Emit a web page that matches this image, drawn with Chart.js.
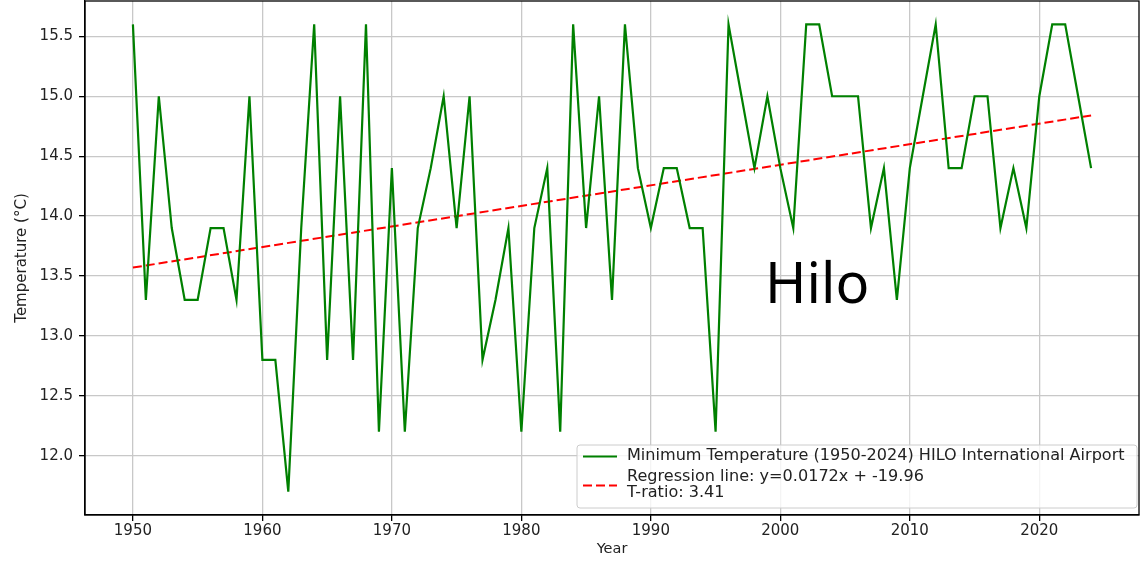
<!DOCTYPE html>
<html>
<head>
<meta charset="utf-8">
<title>Hilo minimum temperature</title>
<script src="https://cdn.jsdelivr.net/npm/chart.js@4.4.0/dist/chart.umd.min.js"></script>
<style>
  html, body { margin: 0; padding: 0; background: #fff; }
  #wrap { width: 1140px; height: 568px; }
</style>
</head>
<body>
<div id="wrap"><canvas id="chart" width="1140" height="568"></canvas></div>
<script>
// Years and yearly minimum temperature (°C)
const years = [
  1950, 1951, 1952, 1953, 1954, 1955, 1956, 1957, 1958, 1959,
  1960, 1961, 1962, 1963, 1964, 1965, 1966, 1967, 1968, 1969,
  1970, 1971, 1972, 1973, 1974, 1975, 1976, 1977, 1978, 1979,
  1980, 1981, 1982, 1983, 1984, 1985, 1986, 1987, 1988, 1989,
  1990, 1991, 1992, 1993, 1994, 1995, 1996, 1997, 1998, 1999,
  2000, 2001, 2002, 2003, 2004, 2005, 2006, 2007, 2008, 2009,
  2010, 2011, 2012, 2013, 2014, 2015, 2016, 2017, 2018, 2019,
  2020, 2021, 2022, 2023, 2024
];
const minTemps = [
  15.6, 13.3, 15.0, 13.9, 13.3, 13.3, 13.9, 13.9, 13.3, 15.0,
  12.8, 12.8, 11.7, 13.9, 15.6, 12.8, 15.0, 12.8, 15.6, 12.2,
  14.4, 12.2, 13.9, 14.4, 15.0, 13.9, 15.0, 12.8, 13.3, 13.9,
  12.2, 13.9, 14.4, 12.2, 15.6, 13.9, 15.0, 13.3, 15.6, 14.4,
  13.9, 14.4, 14.4, 13.9, 13.9, 12.2, 15.6, 15.0, 14.4, 15.0,
  14.4, 13.9, 15.6, 15.6, 15.0, 15.0, 15.0, 13.9, 14.4, 13.3,
  14.4, 15.0, 15.6, 14.4, 14.4, 15.0, 15.0, 13.9, 14.4, 13.9,
  15.0, 15.6, 15.6, 15.0, 14.4
];

// Regression line end points
const trendYears = [1950, 2024];
const trendTemps = [13.57, 14.84];

// Axis ticks
const xTicks = [1950, 1960, 1970, 1980, 1990, 2000, 2010, 2020];
const yTicks = [12.0, 12.5, 13.0, 13.5, 14.0, 14.5, 15.0, 15.5];

const seriesLabel = 'Minimum Temperature (1950-2024) HILO International Airport';
const trendLabel = ['Regression line: y=0.0172x + -19.96', 'T-ratio: 3.41'];
const stationName = 'Hilo';

const tickFont = { family: 'DejaVu Sans', size: 15 };
const textColor = '#222';

// top/right spines, legend box and station label
const decorations = {
  id: 'decorations',
  afterDraw(chart) {
    const { ctx, chartArea: a } = chart;
    ctx.save();

    // frame
    ctx.strokeStyle = '#000';
    ctx.lineWidth = 1.3;
    ctx.strokeRect(a.left, a.top, a.right - a.left, a.bottom - a.top);

    // station name
    ctx.fillStyle = '#000';
    ctx.font = '56px "Noto Sans"';
    ctx.textBaseline = 'alphabetic';
    ctx.fillText(stationName, 765, 303);

    // legend
    const bx = 577, by = 445, bw = 560, bh = 63;
    ctx.beginPath();
    ctx.roundRect(bx, by, bw, bh, 3);
    ctx.fillStyle = 'rgba(255,255,255,0.8)';
    ctx.fill();
    ctx.strokeStyle = '#cccccc';
    ctx.lineWidth = 1;
    ctx.stroke();

    // fit the font to the width seen in the picture
    let size = 14;
    ctx.font = size + 'px "DejaVu Sans"';
    size = size * 498 / ctx.measureText(seriesLabel).width;
    ctx.font = size.toFixed(2) + 'px "DejaVu Sans"';

    const ds = chart.data.datasets;
    ctx.lineWidth = 2;
    ctx.strokeStyle = ds[0].borderColor;
    ctx.setLineDash([]);
    ctx.beginPath();
    ctx.moveTo(583, 456.5);
    ctx.lineTo(617, 456.5);
    ctx.stroke();

    ctx.strokeStyle = ds[1].borderColor;
    ctx.setLineDash(ds[1].borderDash);
    ctx.beginPath();
    ctx.moveTo(583, 485.5);
    ctx.lineTo(617, 485.5);
    ctx.stroke();
    ctx.setLineDash([]);

    ctx.fillStyle = textColor;
    ctx.textBaseline = 'middle';
    ctx.fillText(seriesLabel, 627, 456);
    ctx.fillText(trendLabel[0], 627, 477);
    ctx.fillText(trendLabel[1], 627, 493);

    ctx.restore();
  }
};

new Chart(document.getElementById('chart'), {
  type: 'line',
  data: {
    datasets: [
      {
        label: seriesLabel,
        data: years.map((y, i) => ({ x: y, y: minTemps[i] })),
        borderColor: '#008000',
        borderWidth: 2.2,
        pointRadius: 0,
        tension: 0
      },
      {
        label: trendLabel.join(' '),
        data: trendYears.map((y, i) => ({ x: y, y: trendTemps[i] })),
        borderColor: '#ff0000',
        borderWidth: 2,
        borderDash: [9, 4],
        pointRadius: 0,
        tension: 0
      }
    ]
  },
  options: {
    responsive: false,
    animation: false,
    layout: { padding: { top: 1, right: 1, left: 0, bottom: 0 } },
    plugins: {
      legend: { display: false },
      tooltip: { enabled: false }
    },
    scales: {
      x: {
        type: 'linear',
        min: 1946.3,
        max: 2027.7,
        afterBuildTicks: s => { s.ticks = xTicks.map(v => ({ value: v })); },
        afterFit: s => { s.height = 53; s.paddingLeft = 0; s.paddingRight = 0; },
        ticks: { font: tickFont, color: textColor, padding: 1, maxRotation: 0, callback: v => String(v) },
        grid: { color: '#c8c8c8', lineWidth: 1.3, tickColor: '#000', tickLength: 6 },
        border: { color: '#000', width: 1.3 },
        title: { display: true, text: 'Year', font: { family: 'DejaVu Sans', size: 14.5 }, color: textColor, padding: { top: 0, bottom: 10 } }
      },
      y: {
        min: 11.505,
        max: 15.795,
        afterBuildTicks: s => { s.ticks = yTicks.map(v => ({ value: v })); },
        afterFit: s => { s.width = 85; s.paddingTop = 0; s.paddingBottom = 0; },
        ticks: { font: tickFont, color: textColor, padding: 6, callback: v => v.toFixed(1) },
        grid: { color: '#c8c8c8', lineWidth: 1.3, tickColor: '#000', tickLength: 6 },
        border: { color: '#000', width: 1.3 },
        title: { display: true, text: 'Temperature (°C)', font: { family: 'DejaVu Sans', size: 15 }, color: textColor, padding: { top: 13, bottom: 0 } }
      }
    }
  },
  plugins: [decorations]
});
</script>
</body>
</html>
